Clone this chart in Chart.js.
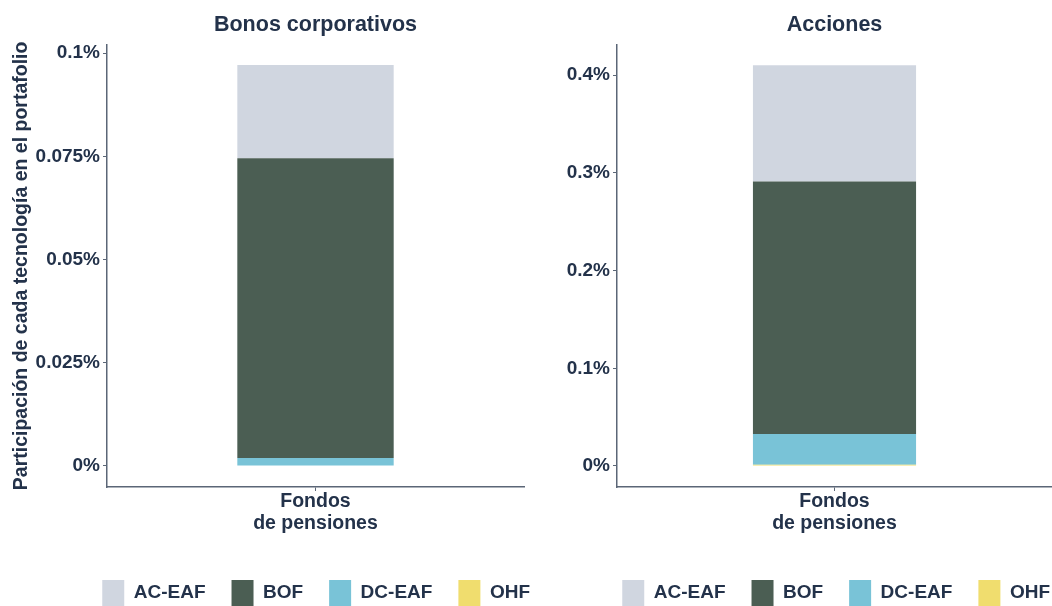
<!DOCTYPE html>
<html>
<head>
<meta charset="utf-8">
<script src="https://cdn.jsdelivr.net/npm/chart.js@4/dist/chart.umd.min.js"></script>
<style>
  html, body { margin: 0; padding: 0; background: #fff; }
  #wrap { position: relative; width: 1052px; height: 606px; overflow: hidden; }
  canvas { position: absolute; top: 0; }
  #left { left: 0; }
  #right { left: 530px; }
</style>
</head>
<body>
<div id="wrap">
  <canvas id="left" width="530" height="616"></canvas>
  <canvas id="right" width="522" height="616"></canvas>
</div>
<script>
// categories and series (values in % of portfolio)
const categories = [['Fondos', 'de pensiones']];
const seriesNames = ['OHF', 'DC-EAF', 'BOF', 'AC-EAF'];
const seriesColors = ['#f0dd6e', '#79c3d7', '#4b5e53', '#d0d6e0'];

const bonosOHF = [0];
const bonosDCEAF = [0.0019];
const bonosBOF = [0.0726];
const bonosACEAF = [0.0226];

const accionesOHF = [0.0012];
const accionesDCEAF = [0.0316];
const accionesBOF = [0.2582];
const accionesACEAF = [0.119];

const bonosTicks = [0, 0.025, 0.05, 0.075, 0.1];
const bonosTickLabels = ['0%', '0.025%', '0.05%', '0.075%', '0.1%'];
const accionesTicks = [0, 0.1, 0.2, 0.3, 0.4];
const accionesTickLabels = ['0%', '0.1%', '0.2%', '0.3%', '0.4%'];

const textColor = '#23324a';
const axisColor = '#5b6677';
const fontFamily = '"Liberation Sans", Arial, sans-serif';

// push the bottom legend a bit to the right so it lines up like the original
const legendShift = {
  id: 'legendShift',
  afterLayout(chart, args, opts) {
    chart.legend.left += opts.dx;
    chart.legend.right += opts.dx;
  }
};

function makeChart(id, title, values, ticks, tickLabels, yRange, yWidth, showYTitle, shift) {
  const ctx = document.getElementById(id).getContext('2d');
  return new Chart(ctx, {
    type: 'bar',
    data: {
      labels: categories,
      datasets: seriesNames.map((name, i) => ({
        label: name,
        data: values[i],
        backgroundColor: seriesColors[i],
        borderWidth: 0,
        categoryPercentage: 1,
        barPercentage: 0.375
      }))
    },
    plugins: [legendShift],
    options: {
      responsive: false,
      animation: false,
      layout: { padding: { left: 0, right: id === 'left' ? 6 : 0, top: 0, bottom: 0 } },
      plugins: {
        legendShift: { dx: shift },
        title: {
          display: true,
          text: title,
          fullSize: false,
          color: textColor,
          font: { family: fontFamily, size: 21.5, weight: 'bold' },
          padding: { top: 12, bottom: 7 }
        },
        legend: {
          position: 'bottom',
          align: 'end',
          reverse: true,
          labels: {
            color: textColor,
            font: { family: fontFamily, size: 19, weight: 'bold' },
            boxWidth: 22,
            boxHeight: 26,
            padding: 26
          }
        },
        tooltip: { enabled: false }
      },
      scales: {
        x: {
          stacked: true,
          border: { display: true, color: axisColor, width: 1.5 },
          grid: { display: true, offset: false, drawOnChartArea: false, drawTicks: true, tickLength: 4, color: axisColor },
          ticks: {
            color: textColor,
            font: { family: fontFamily, size: 19.5, weight: 'bold', lineHeight: 1.1 },
            padding: 0,
            maxRotation: 0
          },
          afterFit: s => { s.height = 67; }
        },
        y: {
          stacked: true,
          min: yRange[0],
          max: yRange[1],
          border: { display: true, color: axisColor, width: 1.5 },
          grid: { display: true, drawOnChartArea: false, drawTicks: true, tickLength: 4, color: axisColor },
          afterBuildTicks: s => { s.ticks = ticks.map(v => ({ value: v })); },
          ticks: {
            color: textColor,
            font: { family: fontFamily, size: 19, weight: 'bold' },
            padding: 3,
            callback: (v, i) => tickLabels[i]
          },
          title: {
            display: showYTitle,
            text: 'Participación de cada tecnología en el portafolio',
            color: textColor,
            font: { family: fontFamily, size: 19.5, weight: 'bold' },
            padding: { top: 10, bottom: 0 }
          },
          afterFit: s => { s.width = yWidth; }
        }
      }
    }
  });
}

makeChart('left', 'Bonos corporativos',
  [bonosOHF, bonosDCEAF, bonosBOF, bonosACEAF],
  bonosTicks, bonosTickLabels, [-0.0051, 0.102], 107, true, 32);

makeChart('right', 'Acciones',
  [accionesOHF, accionesDCEAF, accionesBOF, accionesACEAF],
  accionesTicks, accionesTickLabels, [-0.0215, 0.431], 87, false, 24);
</script>
</body>
</html>
